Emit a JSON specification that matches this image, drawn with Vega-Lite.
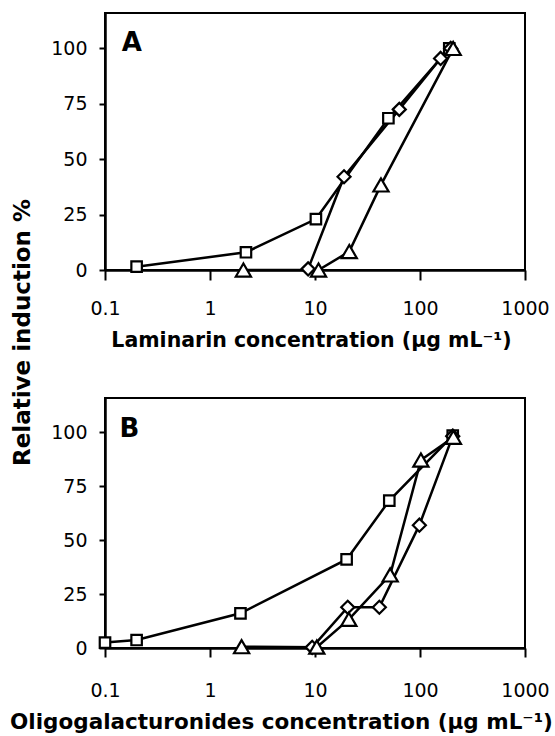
{
  "$schema": "https://vega.github.io/schema/vega-lite/v6.json",
  "autosize": {"type": "none"},
  "padding": {"left": 105, "top": 13, "right": 450, "bottom": 723},
  "background": "white",
  "bounds": "flush",
  "spacing": 128,
  "datasets": {
    "a": [
      {"series": "square", "conc": 0.2, "induction": 1.5},
      {"series": "square", "conc": 2.2, "induction": 8.0},
      {"series": "square", "conc": 10.2, "induction": 23.0},
      {"series": "square", "conc": 50, "induction": 68.5},
      {"series": "square", "conc": 190, "induction": 100},
      {"series": "diamond", "conc": 8.6, "induction": 0.5},
      {"series": "diamond", "conc": 18.9, "induction": 42.1},
      {"series": "diamond", "conc": 63.5, "induction": 72.5},
      {"series": "diamond", "conc": 157, "induction": 95.5},
      {"series": "diamond", "conc": 196, "induction": 100},
      {"series": "triangle", "conc": 2.08, "induction": 0},
      {"series": "triangle", "conc": 10.8, "induction": 0},
      {"series": "triangle", "conc": 21.2, "induction": 8.3},
      {"series": "triangle", "conc": 42.5, "induction": 38.4},
      {"series": "triangle", "conc": 207, "induction": 100}
    ],
    "b": [
      {"series": "square", "conc": 0.1, "induction": 2.5},
      {"series": "square", "conc": 0.2, "induction": 3.7},
      {"series": "square", "conc": 1.95, "induction": 16.1},
      {"series": "square", "conc": 20, "induction": 41.1},
      {"series": "square", "conc": 51, "induction": 68.4},
      {"series": "square", "conc": 205, "induction": 98.5},
      {"series": "diamond", "conc": 9.4, "induction": 0.3},
      {"series": "diamond", "conc": 20.5, "induction": 18.9},
      {"series": "diamond", "conc": 41, "induction": 18.9},
      {"series": "diamond", "conc": 98.6, "induction": 57.0},
      {"series": "diamond", "conc": 205, "induction": 98.3},
      {"series": "triangle", "conc": 2.0, "induction": 0.6},
      {"series": "triangle", "conc": 10.4, "induction": 0.4},
      {"series": "triangle", "conc": 21, "induction": 13.3},
      {"series": "triangle", "conc": 52, "induction": 33.9},
      {"series": "triangle", "conc": 102, "induction": 87.2},
      {"series": "triangle", "conc": 208, "induction": 97.8}
    ],
    "labA": [{"label": "A", "conc": 0.18, "induction": 102.5}],
    "labB": [{"label": "B", "conc": 0.171, "induction": 101.5}]
  },
  "config": {
    "view": {"stroke": "black", "strokeWidth": 2},
    "axis": {
      "grid": false,
      "domainColor": "black",
      "domainWidth": 2.5,
      "tickColor": "black",
      "tickWidth": 2,
      "labelFont": "DejaVu Sans",
      "labelFontSize": 19,
      "labelColor": "black",
      "labelFlush": false,
      "titleFont": "DejaVu Sans",
      "titleFontWeight": "bold",
      "titleFontSize": 20.5,
      "titleColor": "black"
    }
  },
  "vconcat": [
    {
      "width": 420,
      "height": 257,
      "layer": [
        {
          "data": {"name": "a"},
          "mark": {"type": "line", "color": "black", "strokeWidth": 2.5},
          "encoding": {
            "x": {
              "field": "conc", "type": "quantitative",
              "scale": {"type": "log", "domain": [0.1, 1000], "nice": false},
              "axis": {
                "values": [0.1, 1, 10, 100, 1000], "format": "~g",
                "tickSize": 10, "labelPadding": 19,
                "title": "Laminarin concentration (μg mL⁻¹)",
                "titleX": 206, "titleY": 70, "titleBaseline": "middle", "titleAlign": "center"
              }
            },
            "y": {
              "field": "induction", "type": "quantitative",
              "scale": {"domain": [0, 116], "nice": false, "zero": false},
              "axis": {
                "values": [0, 25, 50, 75, 100],
                "tickSize": 6, "labelPadding": 12,
                "title": "Relative induction %", "titleFontSize": 23,
                "titleX": -83, "titleY": 319, "titleBaseline": "middle", "titleAlign": "center", "titleAngle": -90
              }
            },
            "detail": {"field": "series"}
          }
        },
        {
          "data": {"name": "a"},
          "mark": {"type": "point", "filled": true, "fill": "white", "stroke": "black", "strokeWidth": 2.2, "opacity": 1},
          "encoding": {
            "x": {"field": "conc", "type": "quantitative", "scale": {"type": "log", "domain": [0.1, 1000], "nice": false}},
            "y": {"field": "induction", "type": "quantitative", "scale": {"domain": [0, 116], "nice": false, "zero": false}},
            "shape": {"field": "series", "type": "nominal", "legend": null,
              "scale": {"domain": ["square", "diamond", "triangle"], "range": ["square", "diamond", "triangle-up"]}},
            "size": {"field": "series", "type": "nominal", "legend": null,
              "scale": {"domain": ["square", "diamond", "triangle"], "range": [110, 230, 180]}}
          }
        },
        {
          "data": {"name": "labA"},
          "mark": {"type": "text", "font": "DejaVu Sans", "fontWeight": "bold", "fontSize": 26, "align": "center", "baseline": "middle", "color": "black"},
          "encoding": {
            "x": {"field": "conc", "type": "quantitative", "scale": {"type": "log", "domain": [0.1, 1000], "nice": false}},
            "y": {"field": "induction", "type": "quantitative", "scale": {"domain": [0, 116], "nice": false, "zero": false}},
            "text": {"field": "label"}
          }
        }
      ]
    },
    {
      "width": 420,
      "height": 250,
      "layer": [
        {
          "data": {"name": "b"},
          "mark": {"type": "line", "color": "black", "strokeWidth": 2.5},
          "encoding": {
            "x": {
              "field": "conc", "type": "quantitative",
              "scale": {"type": "log", "domain": [0.1, 1000], "nice": false},
              "axis": {
                "values": [0.1, 1, 10, 100, 1000], "format": "~g",
                "tickSize": 9, "labelPadding": 24,
                "title": "Oligogalacturonides concentration (μg mL⁻¹)", "titleFontSize": 21.5,
                "titleX": 176, "titleY": 74, "titleBaseline": "middle", "titleAlign": "center"
              }
            },
            "y": {
              "field": "induction", "type": "quantitative",
              "scale": {"domain": [0, 116], "nice": false, "zero": false},
              "axis": {"values": [0, 25, 50, 75, 100], "tickSize": 6, "labelPadding": 12, "title": null}
            },
            "detail": {"field": "series"}
          }
        },
        {
          "data": {"name": "b"},
          "mark": {"type": "point", "filled": true, "fill": "white", "stroke": "black", "strokeWidth": 2.2, "opacity": 1},
          "encoding": {
            "x": {"field": "conc", "type": "quantitative", "scale": {"type": "log", "domain": [0.1, 1000], "nice": false}},
            "y": {"field": "induction", "type": "quantitative", "scale": {"domain": [0, 116], "nice": false, "zero": false}},
            "shape": {"field": "series", "type": "nominal", "legend": null,
              "scale": {"domain": ["square", "diamond", "triangle"], "range": ["square", "diamond", "triangle-up"]}},
            "size": {"field": "series", "type": "nominal", "legend": null,
              "scale": {"domain": ["square", "diamond", "triangle"], "range": [110, 230, 180]}}
          }
        },
        {
          "data": {"name": "labB"},
          "mark": {"type": "text", "font": "DejaVu Sans", "fontWeight": "bold", "fontSize": 26, "align": "center", "baseline": "middle", "color": "black"},
          "encoding": {
            "x": {"field": "conc", "type": "quantitative", "scale": {"type": "log", "domain": [0.1, 1000], "nice": false}},
            "y": {"field": "induction", "type": "quantitative", "scale": {"domain": [0, 116], "nice": false, "zero": false}},
            "text": {"field": "label"}
          }
        }
      ]
    }
  ]
}
